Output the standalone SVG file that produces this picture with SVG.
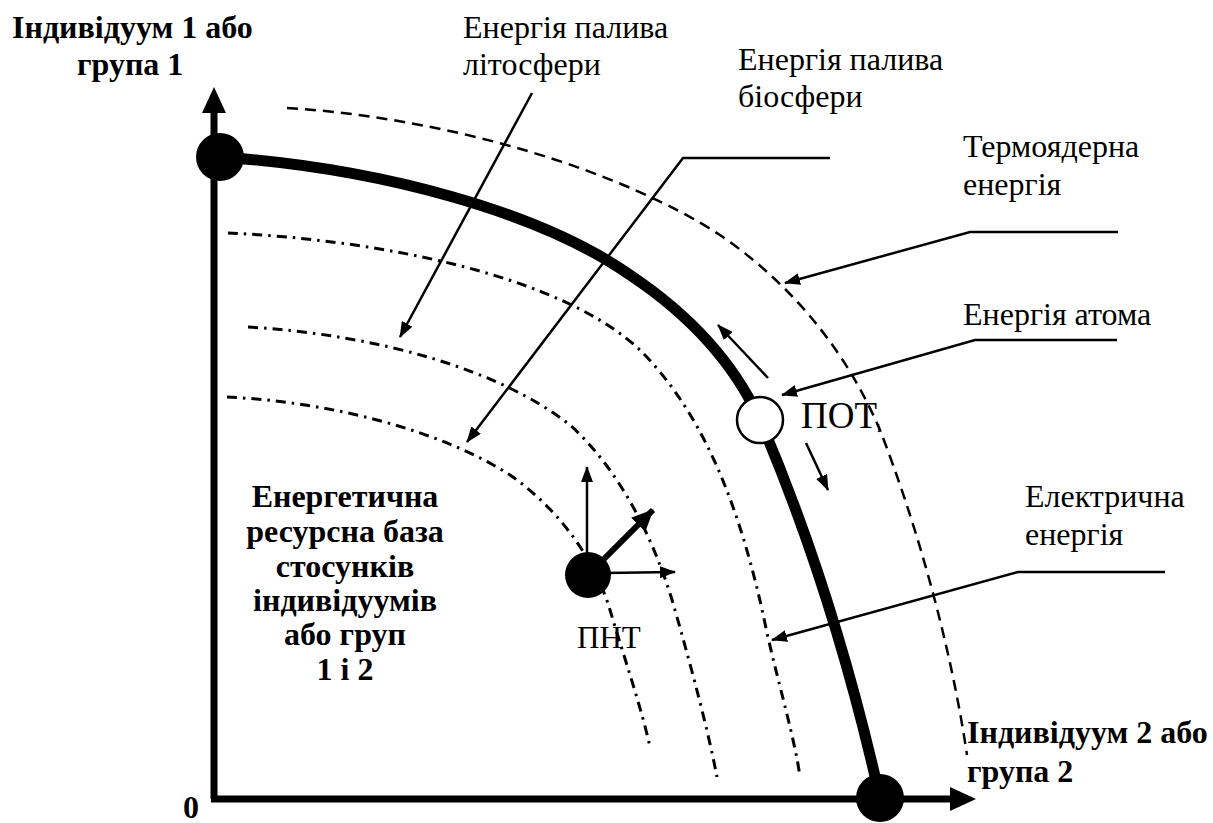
<svg xmlns="http://www.w3.org/2000/svg" width="1213" height="823" viewBox="0 0 1213 823">
<defs>
<style>
text{font-family:'Liberation Serif','Times New Roman',serif;fill:#000}
.lbl{font-size:32px}
.b{font-weight:bold;font-size:32px}
.thin{fill:none;stroke:#000;stroke-width:2.5}
.dd{fill:none;stroke:#000;stroke-width:3;stroke-dasharray:10 6 2.5 6}
.ds{fill:none;stroke:#000;stroke-width:2.5;stroke-dasharray:11 7}
</style>
<marker id="ah" viewBox="0 0 16 12" refX="15" refY="6" markerWidth="16" markerHeight="12" markerUnits="userSpaceOnUse" orient="auto"><path d="M0,0 L16,6 L0,12 Z" fill="#000"/></marker>
<marker id="ahm" viewBox="0 0 22 20" refX="21" refY="10" markerWidth="22" markerHeight="20" markerUnits="userSpaceOnUse" orient="auto"><path d="M0,0 L22,10 L0,20 Z" fill="#000"/></marker>
</defs>
<rect width="1213" height="823" fill="#fff"/>
<g id="curves">
<path class="ds" d="M287,108 C 450,118 620,170 720,235 C 800,290 850,360 880,430 C 915,520 950,640 967,755"/>
<path class="dd" d="M228,233 C 380,240 560,275 640,350 C 700,410 740,500 767,633 C 780,690 795,740 800,777"/>
<path class="dd" d="M248,327 C 380,335 500,370 570,425 C 620,470 655,540 675,610 C 692,670 708,730 717,777"/>
<path class="dd" d="M227,397 C 330,402 440,430 510,475 C 560,510 595,560 610,610 C 625,660 642,710 650,747"/>
<path id="frontier" d="M220,157 C 380,168 540,212 630,275 C 690,315 735,365 760,420 C 790,490 840,620 880,798" fill="none" stroke="#000" stroke-width="11"/>
</g>
<g id="axes">
<path d="M214,799 L214,108" fill="none" stroke="#000" stroke-width="7"/>
<path d="M214,87 L202,113 L226,113 Z" fill="#000"/>
<path d="M211,799 L955,799" fill="none" stroke="#000" stroke-width="7"/>
<path d="M976,799 L950,787 L950,811 Z" fill="#000"/>
</g>
<g id="connectors">
<path class="thin" d="M532,93 L400,337" marker-end="url(#ah)"/>
<path class="thin" d="M830,158 L683,158 L467,442" marker-end="url(#ah)"/>
<path class="thin" d="M1118,232 L970,232 L785,283" marker-end="url(#ah)"/>
<path class="thin" d="M1117,340 L975,340 L782,395" marker-end="url(#ah)"/>
<path class="thin" d="M1165,572 L1018,572 L772,640" marker-end="url(#ah)"/>
<path class="thin" d="M768,378 L718,325" marker-end="url(#ah)"/>
<path class="thin" d="M806,443 L828,490" marker-end="url(#ah)"/>
<path class="thin" d="M587,560 L587,467" marker-end="url(#ah)"/>
<path class="thin" d="M605,573 L675,572" marker-end="url(#ah)"/>
<path d="M595,568 L653,510" fill="none" stroke="#000" stroke-width="6" marker-end="url(#ahm)"/>
</g>
<g id="node-a"><circle cx="220" cy="157" r="24" fill="#000"/></g>
<g id="node-b"><circle cx="880" cy="798" r="24" fill="#000"/></g>
<g id="node-pot"><circle cx="760" cy="420" r="23" fill="#fff" stroke="#000" stroke-width="2.5"/>
<text x="801" y="428" style="font-size:37px">ПОТ<tspan dy="4" style="font-size:13px">і</tspan></text></g>
<g id="node-pnt"><circle cx="588" cy="575" r="23" fill="#000"/>
<text x="577" y="648" style="font-size:31px">ПНТ</text></g>
<g id="labels">
<text class="b" x="12" y="38">Індивідуум 1 або</text>
<text class="b" x="77" y="75">група 1</text>
<text class="b" x="967" y="743">Індивідуум 2 або</text>
<text class="b" x="967" y="782">група 2</text>
<text class="b" x="183" y="818">0</text>
<text class="lbl" x="463" y="38">Енергія палива</text>
<text class="lbl" x="463" y="75">літосфери</text>
<text class="lbl" x="738" y="70">Енергія палива</text>
<text class="lbl" x="738" y="107">біосфери</text>
<text class="lbl" x="963" y="157">Термоядерна</text>
<text class="lbl" x="963" y="195">енергія</text>
<text class="lbl" x="963" y="325">Енергія атома</text>
<text class="lbl" x="1025" y="507">Електрична</text>
<text class="lbl" x="1025" y="545">енергія</text>
<g text-anchor="middle">
<text class="b" x="345" y="507">Енергетична</text>
<text class="b" x="345" y="542">ресурсна база</text>
<text class="b" x="345" y="577">стосунків</text>
<text class="b" x="345" y="611">індивідуумів</text>
<text class="b" x="345" y="645">або груп</text>
<text class="b" x="345" y="680">1 і 2</text>
</g>
</g>
</svg>
